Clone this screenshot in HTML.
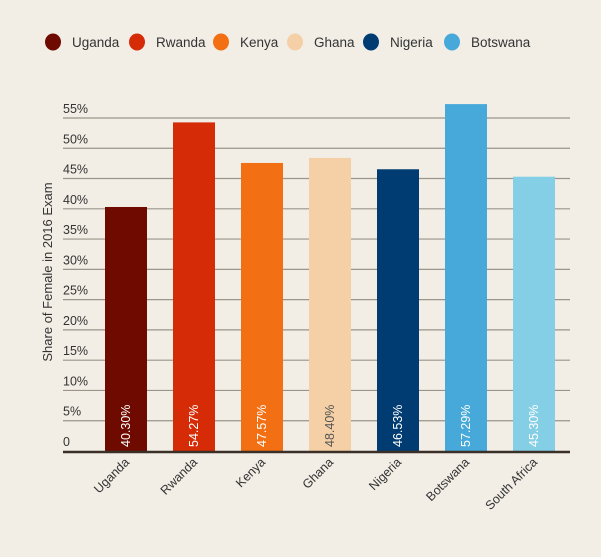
<!DOCTYPE html>
<html><head><meta charset="utf-8"><style>
body{margin:0;background:#f2eee6;}
svg{display:block;font-family:"Liberation Sans",sans-serif;}
</style></head><body>
<svg id="chart" width="601" height="557" viewBox="0 0 601 557">
<rect width="601" height="557" fill="#f2eee6"/>
<g id="legend"></g>
<g id="grid"></g>
<g id="bars"></g>
<text transform="translate(52,272) rotate(-90)" text-anchor="middle" font-size="13" fill="#333">Share of Female in 2016 Exam</text>
</svg>
<script>
const categories=["Uganda","Rwanda","Kenya","Ghana","Nigeria","Botswana","South Africa"];
const values=[40.30,54.27,47.57,48.40,46.53,57.29,45.30];
const colors=["#6e0a00","#d62b07","#f36f13","#f5d0a6","#003c71","#46a9d9","#85cfe6"];
const legendNames=["Uganda","Rwanda","Kenya","Ghana","Nigeria","Botswana"];
const ticks=[0,5,10,15,20,25,30,35,40,45,50,55];
const NS="http://www.w3.org/2000/svg";
function mk(t,a,p){const e=document.createElementNS(NS,t);for(const k in a)e.setAttribute(k,a[k]);p.appendChild(e);return e;}
const y0=451,pxPer=6.055;
function y(v){return y0-v*pxPer;}
function x(i){return 105+i*68;}
const bw=42;
const grid=document.getElementById('grid');
ticks.forEach(t=>{
  if(t>0){const l=mk('line',{x1:63,x2:570,y1:y(t),y2:y(t),stroke:'#9a948a','stroke-width':1.2},grid);
  
  }
  const tx=mk('text',{x:63,y:y(t)-5,'font-size':12.5,fill:'#333'},grid);
  tx.textContent=t===0?'0':t+'%';
  
  
});
const bars=document.getElementById('bars');
values.forEach((v,i)=>{
  const r=mk('rect',{x:x(i),y:y(v),width:bw,height:y0-y(v),fill:colors[i]},bars);
  
  
  const vt=mk('text',{transform:`translate(${x(i)+bw/2+4},${y0-4}) rotate(-90)`,'font-size':12.5,fill:i===3?'#555':'#fff'},bars);
  vt.textContent=v.toFixed(2)+'%';
  
  
  const ct=mk('text',{transform:`translate(${x(i)+bw/2+4},${y0+12}) rotate(-45)`,'text-anchor':'end','font-size':12.5,fill:'#333'},bars);
  ct.textContent=categories[i];
  
  
});
const base=mk('line',{x1:63,x2:570,y1:y0+1,y2:y0+1,stroke:'#3a3028','stroke-width':2.5},bars);


const leg=document.getElementById('legend');
const lx=[53,137,221,295,371,452];
legendNames.forEach((n,i)=>{
  const c=mk('ellipse',{cx:lx[i],cy:42,rx:8,ry:8.5,fill:colors[i]},leg);
  
  
  const t=mk('text',{x:lx[i]+19,y:47,'font-size':13.5,fill:'#333'},leg);
  t.textContent=n;
  
  
});
</script>
</body></html>
